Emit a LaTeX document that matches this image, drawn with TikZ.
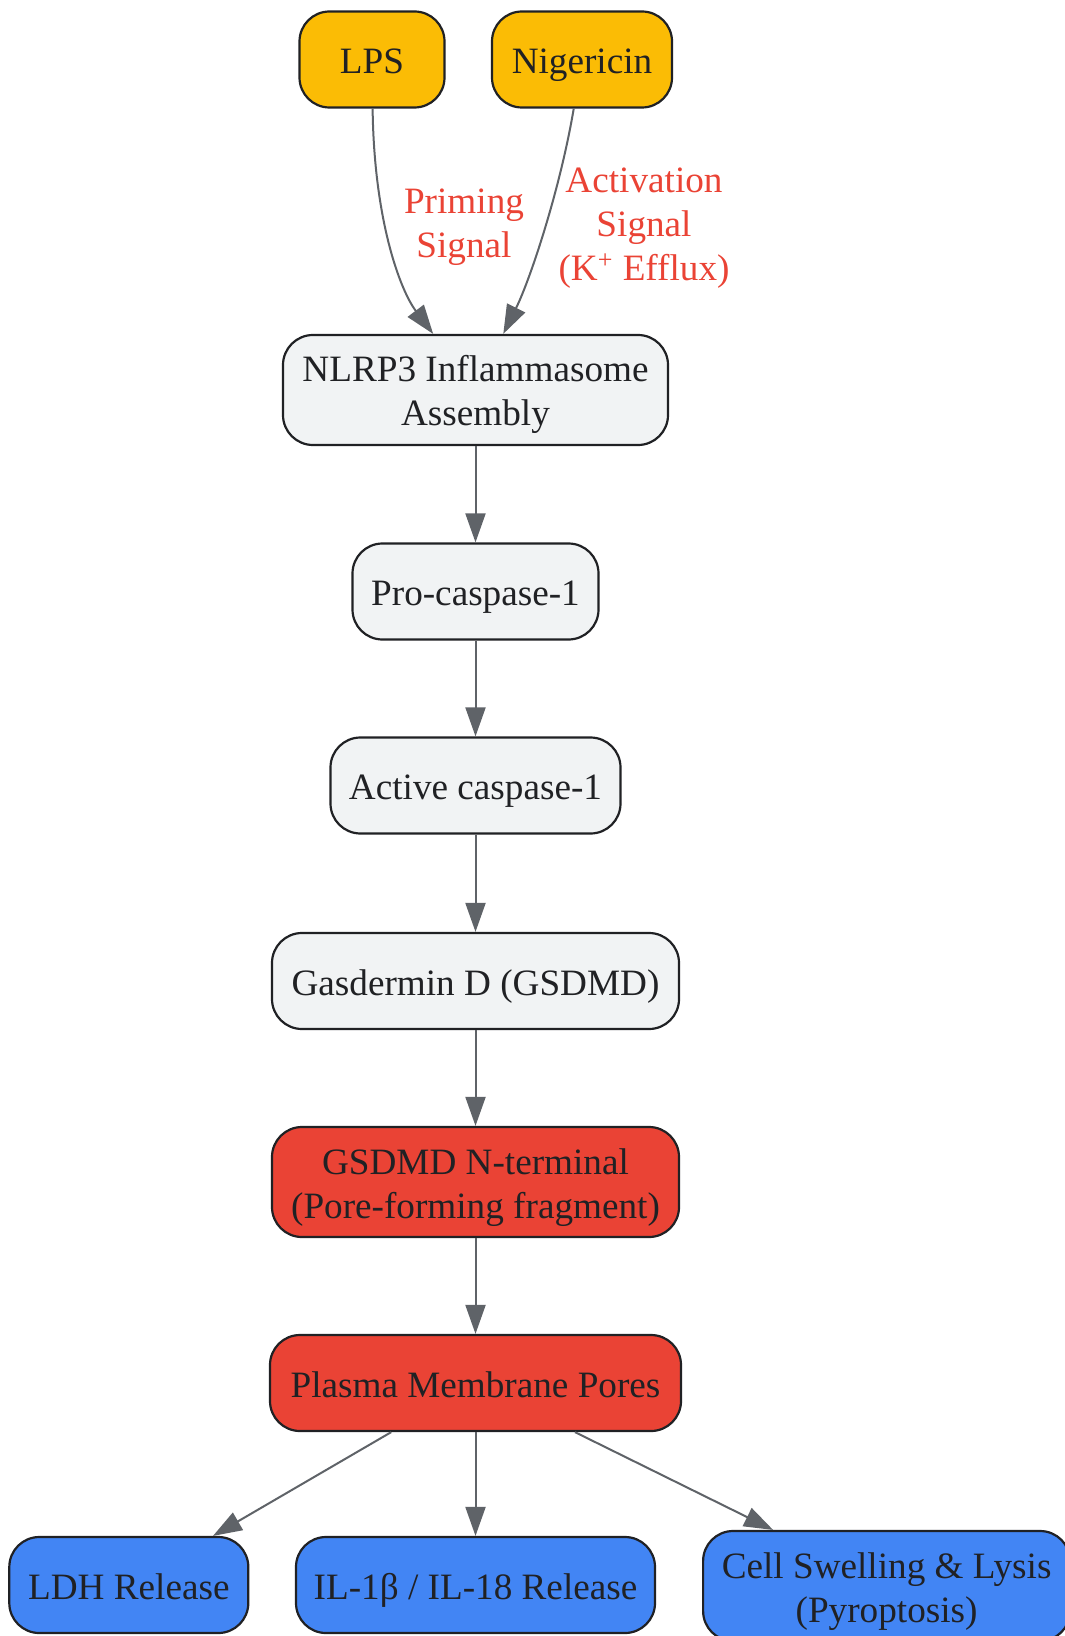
\documentclass[tikz,border=0pt]{standalone}
\usepackage{fontspec}
\setmainfont{Liberation Serif}
\usepackage{tikz}
\usetikzlibrary{arrows.meta}
\definecolor{gYellow}{HTML}{FBBC05}
\definecolor{gGray}{HTML}{F1F3F4}
\definecolor{gRed}{HTML}{EA4335}
\definecolor{gBlue}{HTML}{4285F4}
\definecolor{edgeGray}{HTML}{5F6368}
\definecolor{inkDark}{HTML}{202124}
\newcommand{\boxtext}[1]{\raisebox{-2.6pt}[\height][\depth]{\begin{tabular}{@{}c@{}}#1\end{tabular}}}

\begin{document}
\begin{tikzpicture}[x=0.5pt, y=-0.5pt,
    box/.style={draw=inkDark, line width=1.1pt, rounded corners=15pt, text=inkDark,
        minimum height=48pt, inner xsep=8pt, inner ysep=5pt, font=\fontsize{18.6}{22}\selectfont},
    twoline/.style={minimum height=55pt},
    stimulus/.style={box, fill=gYellow},
    pathway/.style={box, fill=gGray},
    effector/.style={box, fill=gRed},
    outcome/.style={box, fill=gBlue},
    link/.style={draw=edgeGray, line width=1pt, -{Triangle[length=14.5pt,width=10pt]}},
    siglabel/.style={text=gRed, inner sep=0pt, font=\fontsize{18.6}{22}\selectfont}]
        \useasboundingbox (0,0) rectangle (1064,1636);
        %\draw[help lines] (0,0) grid[step=50] (1064,1636);
        \node[stimulus, minimum width=72.5pt] (lps) at (372, 59.5) {\boxtext{LPS}};
        \node[stimulus, minimum width=90pt] (nig) at (582, 59.5) {\boxtext{Nigericin}};
        \node[pathway, twoline, minimum width=192.5pt] (nlrp) at (475.5, 390) {\boxtext{NLRP3 Inflammasome\\Assembly}};
        \node[pathway, minimum width=123pt] (procasp) at (475.5, 591.5) {\boxtext{Pro-caspase-1}};
        \node[pathway, minimum width=145pt] (actcasp) at (475.5, 785.5) {\boxtext{Active caspase-1}};
        \node[pathway, minimum width=203.5pt] (gsdmd) at (475.5, 981) {\boxtext{Gasdermin D (GSDMD)}};
        \node[effector, twoline, minimum width=203.5pt] (nterm) at (475.5, 1182) {\boxtext{GSDMD N-terminal\\(Pore-forming fragment)}};
        \node[effector, minimum width=205.5pt] (pores) at (475.5, 1383) {\boxtext{Plasma Membrane Pores}};
        \node[outcome, minimum width=119.5pt] (ldh) at (128.8, 1585) {\boxtext{LDH Release}};
        \node[outcome, minimum width=179.5pt] (il) at (475.5, 1585) {\boxtext{IL-1β / IL-18 Release}};
        \node[outcome, twoline, minimum width=183.5pt] (lysis) at (886.6, 1586) {\boxtext{Cell Swelling \& Lysis\\(Pyroptosis)}};

        \draw[link] (lps) .. controls (374, 220) and (400, 290) .. (nlrp);
        \draw[link] (nig) .. controls (560, 190) and (530, 280) .. (nlrp);
        \node[siglabel] (priming) at (464, 222) {\boxtext{Priming\\Signal}};
        \node[siglabel] (activation) at (644, 223) {\boxtext{Activation\\Signal\\(K\textsuperscript{+} Efflux)}};

        \draw[link] (nlrp) -- (procasp);
        \draw[link] (procasp) -- (actcasp);
        \draw[link] (actcasp) -- (gsdmd);
        \draw[link] (gsdmd) -- (nterm);
        \draw[link] (nterm) -- (pores);
        \draw[link] (pores) -- (ldh);
        \draw[link] (pores) -- (il);
        \draw[link] (pores) -- (lysis);
\end{tikzpicture}
\end{document}
